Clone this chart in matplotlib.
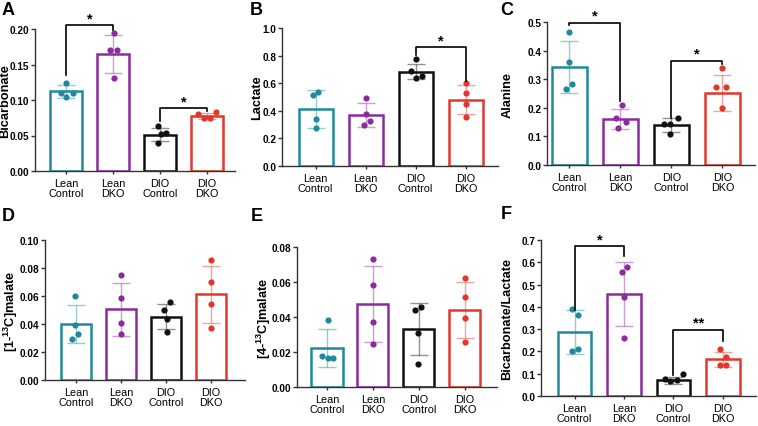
import numpy as np
import matplotlib
matplotlib.use("Agg")
import matplotlib.pyplot as plt

plt.rcParams['font.family'] = ['Liberation Sans', 'DejaVu Sans']
plt.rcParams['mathtext.fontset'] = 'custom'
plt.rcParams['mathtext.rm'] = 'Liberation Sans'
plt.rcParams['mathtext.bf'] = 'Liberation Sans:bold'

# %% data
groups = ["Lean\nControl", "Lean\nDKO", "DIO\nControl", "DIO\nDKO"]
colors = ["#1f8a9b", "#8c2b9e", "#111111", "#e2372d"]

bicarb_mean = [0.112, 0.165, 0.051, 0.077]
bicarb_sd = [0.009, 0.027, 0.009, 0.004]
bicarb_pts = [[0.124, 0.1105, 0.1105, 0.104], [0.195, 0.171, 0.170, 0.131],
              [0.063, 0.054, 0.052, 0.040], [0.080, 0.074, 0.074, 0.083]]
bicarb_jit = [[0, -0.1, 0.14, 0], [0.02, -0.06, 0.08, 0.02],
              [-0.04, 0.12, 0.03, -0.04], [-0.18, -0.06, 0.06, 0.2]]

lact_mean = [0.413, 0.369, 0.684, 0.481]
lact_sd = [0.135, 0.090, 0.057, 0.106]
lact_pts = [[0.517, 0.536, 0.337, 0.274], [0.493, 0.376, 0.328, 0.299],
            [0.772, 0.687, 0.655, 0.636], [0.602, 0.529, 0.449, 0.357]]
lact_jit = [[-0.06, 0.05, 0, 0], [0.01, 0.01, 0.08, -0.03],
            [0.01, -0.1, 0.13, 0.01], [0, 0, 0, 0]]

ala_mean = [0.342, 0.160, 0.139, 0.251]
ala_sd = [0.090, 0.035, 0.025, 0.062]
ala_pts = [[0.465, 0.359, 0.283, 0.266], [0.211, 0.164, 0.149, 0.131],
           [0.145, 0.145, 0.166, 0.108], [0.338, 0.272, 0.272, 0.198]]
ala_jit = [[0, 0, 0.06, -0.07], [0.03, -0.08, 0.1, -0.05],
           [-0.15, -0.03, 0.12, -0.03], [0, -0.12, 0.08, 0]]

mal1_mean = [0.0399, 0.0506, 0.0451, 0.0611]
mal1_sd = [0.0138, 0.0190, 0.0090, 0.0206]
mal1_pts = [[0.0599, 0.0391, 0.0332, 0.0296], [0.0749, 0.0585, 0.0406, 0.0327],
            [0.0501, 0.0554, 0.0434, 0.0346], [0.0857, 0.0697, 0.0542, 0.0370]]
mal1_jit = [[-0.02, -0.02, 0.04, -0.1], [0, 0, 0, 0],
            [-0.05, 0.1, 0.02, 0.02], [0, 0, 0, 0]]

mal4_mean = [0.0222, 0.0475, 0.0331, 0.0440]
mal4_sd = [0.0108, 0.0218, 0.0150, 0.0160]
mal4_pts = [[0.0383, 0.0178, 0.0168, 0.0168], [0.0729, 0.0582, 0.0369, 0.0245],
            [0.0440, 0.0459, 0.0306, 0.0130], [0.0622, 0.0513, 0.0394, 0.0255]]
mal4_jit = [[0.02, -0.1, 0.02, 0.14], [0, 0, 0, 0],
            [-0.09, 0.04, -0.01, -0.01], [0, 0, 0, 0]]

ratio_mean = [0.287, 0.459, 0.0715, 0.164]
ratio_sd = [0.100, 0.143, 0.016, 0.034]
ratio_pts = [[0.389, 0.365, 0.203, 0.209], [0.581, 0.556, 0.444, 0.262],
             [0.077, 0.066, 0.073, 0.098], [0.209, 0.176, 0.139, 0.139]]
ratio_jit = [[-0.06, 0.07, -0.06, 0.07], [0.07, -0.05, 0, 0],
             [-0.18, -0.07, 0.07, 0.19], [-0.06, 0.07, -0.06, 0.07]]

# brackets: (group a, group b, y start a, y top, y end b, label)
bicarb_sig = [(0, 1, 0.135, 0.205, 0.199, "*"), (2, 3, 0.071, 0.0885, 0.085, "*")]
lact_sig = [(2, 3, 0.806, 0.862, 0.619, "*")]
ala_sig = [(0, 1, 0.488, 0.498, 0.225, "*"), (2, 3, 0.163, 0.365, 0.354, "*")]
ratio_sig = [(0, 1, 0.387, 0.672, 0.630, "*"), (2, 3, 0.094, 0.298, 0.246, "**")]

W, H = 758, 427
fig = plt.figure(figsize=(W / 100, H / 100), dpi=100)


def panel(box, xlim, ylim, yticks, fmt, ylabel, ylab_x, mean, sd, pts, jit, sig=()):
    x0, x1, ytop, ybot = box
    ax = fig.add_axes([x0 / W, 1 - ybot / H, (x1 - x0) / W, (ybot - ytop) / H])
    x = np.arange(len(groups))
    ax.bar(x, mean, width=0.68, facecolor="white", edgecolor=colors, linewidth=1.8, zorder=2)
    for i in range(len(groups)):
        ax.errorbar(x[i], mean[i], yerr=sd[i], color=colors[i], alpha=0.45, lw=1.0,
                    capsize=6.5, capthick=1.0, zorder=3)
        ax.scatter(x[i] + np.array(jit[i]), pts[i], s=20, color=colors[i],
                   zorder=4, linewidths=0, clip_on=False)
    for a, b, ya, yt, yb, lab in sig:
        ax.plot([a, a, b, b], [ya, yt, yt, yb], color="black", lw=1.2,
                clip_on=False, zorder=5)
        ax.text((a + b) / 2, yt, lab, ha="center", va="bottom", fontsize=10.5,
                fontweight="bold")
    ax.set_xlim(*xlim)
    ax.set_ylim(*ylim)
    ax.set_yticks(yticks)
    ax.set_yticklabels([fmt.format(v) for v in yticks], fontsize=7.2, fontweight="bold")
    ax.set_xticks(x)
    ax.set_xticklabels(groups, fontsize=7.8, linespacing=1.0)
    ax.tick_params(axis="x", length=2.5, width=1, pad=2.5, colors="#333333",
                   labelcolor="black")
    ax.tick_params(axis="y", length=3, width=1, pad=1.2, colors="#333333",
                   labelcolor="black")
    for s in ["top", "right"]:
        ax.spines[s].set_visible(False)
    for s in ["left", "bottom"]:
        ax.spines[s].set_linewidth(1.0)
        ax.spines[s].set_color("#333333")
    yc = 1 - (ytop + ybot) / 2 / H
    fig.text(ylab_x / W, yc, ylabel, rotation=90, ha="center", va="center",
             fontsize=9.2, fontweight="bold")
    return ax


panel((35, 235, 30, 172), (-0.66, 3.6), (0, 0.2), [0, 0.05, 0.10, 0.15, 0.20],
      "{:.2f}", "Bicarbonate", 5.5, bicarb_mean, bicarb_sd, bicarb_pts, bicarb_jit, bicarb_sig)
panel((282, 498, 29, 167), (-0.67, 3.65), (0, 1.0), [0, 0.2, 0.4, 0.6, 0.8, 1.0],
      "{:.1f}", "Lactate", 257, lact_mean, lact_sd, lact_pts, lact_jit, lact_sig)
panel((547, 755, 23, 166), (-0.44, 3.64), (0, 0.5), [0, 0.1, 0.2, 0.3, 0.4, 0.5],
      "{:.1f}", "Alanine", 508, ala_mean, ala_sd, ala_pts, ala_jit, ala_sig)
panel((45, 245, 241, 381), (-0.69, 3.76), (0, 0.10), [0, 0.02, 0.04, 0.06, 0.08, 0.10],
      "{:.2f}", r"[1-$\mathbf{^{13}}$C]malate", 11, mal1_mean, mal1_sd, mal1_pts, mal1_jit)
panel((297, 497, 248, 388), (-0.65, 3.7), (0, 0.08), [0, 0.02, 0.04, 0.06, 0.08],
      "{:.2f}", r"[4-$\mathbf{^{13}}$C]malate", 264, mal4_mean, mal4_sd, mal4_pts, mal4_jit)
panel((541, 756, 241, 397), (-0.68, 3.67), (0, 0.7), [0, 0.1, 0.2, 0.3, 0.4, 0.5, 0.6, 0.7],
      "{:.1f}", "Bicarbonate/Lactate", 507, ratio_mean, ratio_sd, ratio_pts, ratio_jit, ratio_sig)

for letter, px, py in [("A", 2, 2), ("B", 250, 2), ("C", 500, 2),
                       ("D", 2, 208), ("E", 251, 208), ("F", 501, 206)]:
    fig.text(px / W, 1 - py / H, letter, ha="left", va="top", fontsize=13,
             fontweight="bold")

fig.savefig("out.png", dpi=100)
